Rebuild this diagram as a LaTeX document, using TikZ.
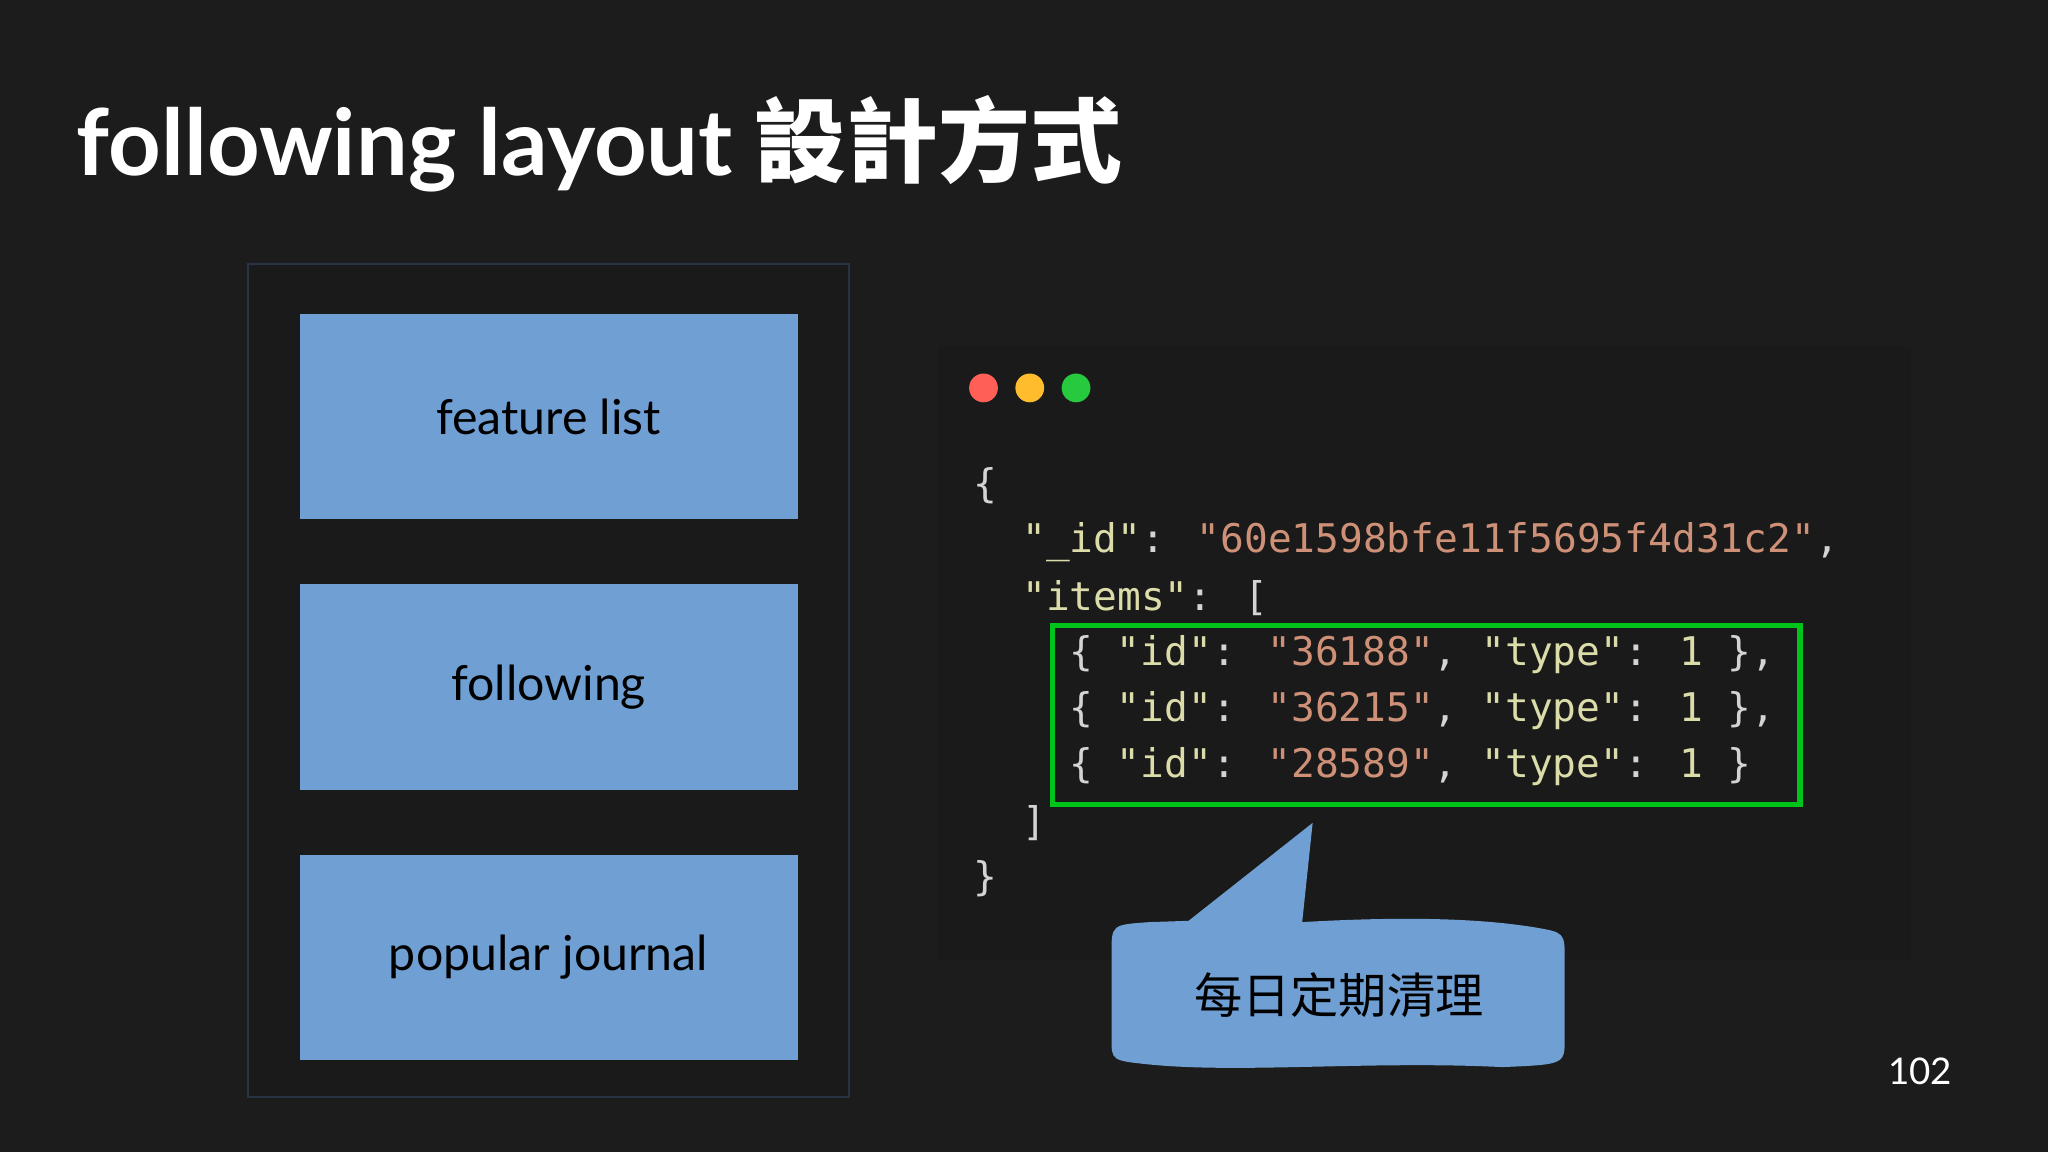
\documentclass[tikz,border=0pt]{standalone}
\usepackage{fontspec}
\setmainfont{Lato}
\newfontfamily\cjk{Noto Sans CJK TC}
\newfontfamily\cjkbold{Noto Sans CJK TC Bold}
\newfontfamily\codefont{DejaVu Sans Mono}
\usetikzlibrary{positioning}
\definecolor{bgdark}{HTML}{1C1C1C}
\definecolor{paneldark}{HTML}{1A1A1A}
\definecolor{boxblue}{HTML}{6F9FD3}
\definecolor{keycol}{HTML}{DCDCAA}
\definecolor{strcol}{HTML}{CE9178}
\definecolor{puncol}{HTML}{D4D4D4}
\definecolor{hlgreen}{HTML}{00C41A}
\tikzset{
  blockbox/.style={fill=boxblue, minimum width=3.81cm, minimum height=1.57cm, inner sep=0pt, font=\fontsize{10.5}{12}\selectfont},
  codeline/.style={anchor=west, inner sep=0pt, font=\codefont\fontsize{8.6}{10}\selectfont, text=puncol},
  light/.style={circle, minimum size=0.22cm, inner sep=0pt}
}
\newcommand{\ky}[1]{\textcolor{keycol}{#1}}
\newcommand{\st}[1]{\textcolor{strcol}{#1}}
\begin{document}
\begin{tikzpicture}[x=0.01cm, y=-0.01cm]
    \fill[bgdark] (0,0) rectangle (1568,882);
    \useasboundingbox (0,0) rectangle (1568,882);
    % title
    \node[anchor=west, inner sep=0pt, text=white] (title) at (58,110)
      {\fontsize{20}{24}\selectfont\bfseries following layout \cjkbold 設計方式};
    % left panel
    \draw[paneldark, fill=paneldark] (190,202) rectangle (650,840);
    \draw[draw={rgb,255:red,40;green,52;blue,68}, line width=0.4pt] (190,202) rectangle (650,840);
    \node[blockbox] (feature) at (420,319) {feature list};
    \node[blockbox] (follow) at (420,526) {following};
    \node[blockbox] (popular) at (420,733) {popular journal};
    % code window
    \fill[paneldark] (718,265) rectangle (1463,735);
    \node[light, fill={rgb,255:red,255;green,95;blue,86}] (red) at (753,297) {};
    \node[light, fill={rgb,255:red,255;green,189;blue,46}, right=0.12cm of red] (yellow) {};
    \node[light, fill={rgb,255:red,39;green,201;blue,63}, right=0.12cm of yellow] (green) {};
    \node[codeline] (l1) at (745,372) {\{};
    \node[codeline] (l2) at (782,415) {\ky{"\_id"}: \st{"60e1598bfe11f5695f4d31c2"},};
    \node[codeline] (l3) at (782,458) {\ky{"items"}: [};
    \node[codeline] (l4) at (818,501) {\{ \ky{"id"}: \st{"36188"}, \ky{"type"}: \ky{1} \},};
    \node[codeline] (l5) at (818,544) {\{ \ky{"id"}: \st{"36215"}, \ky{"type"}: \ky{1} \},};
    \node[codeline] (l6) at (818,587) {\{ \ky{"id"}: \st{"28589"}, \ky{"type"}: \ky{1} \}};
    \node[codeline] (l7) at (782,630) {]};
    \node[codeline] (l8) at (745,673) {\}};
    \draw[hlgreen, line width=1.2pt] (806,479) rectangle (1378,616);
    % callout
    \fill[boxblue] (1005,630) -- (997,706)
      .. controls (1100,700) and (1150,706) .. (1175,710)
      .. controls (1198,714) .. (1198,735) -- (1198,795)
      .. controls (1198,815) .. (1150,817)
      .. controls (1050,812) and (950,822) .. (880,815)
      .. controls (851,812) .. (851,795) -- (851,730)
      .. controls (851,708) .. (880,706) -- (910,705) -- cycle;
    \node[text=black, font=\cjk\fontsize{10.5}{12}\selectfont] (note) at (1025,762) {每日定期清理};
    \node[text=white, font=\fontsize{8}{10}\selectfont] (page) at (1470,820) {102};
\end{tikzpicture}
\end{document}
